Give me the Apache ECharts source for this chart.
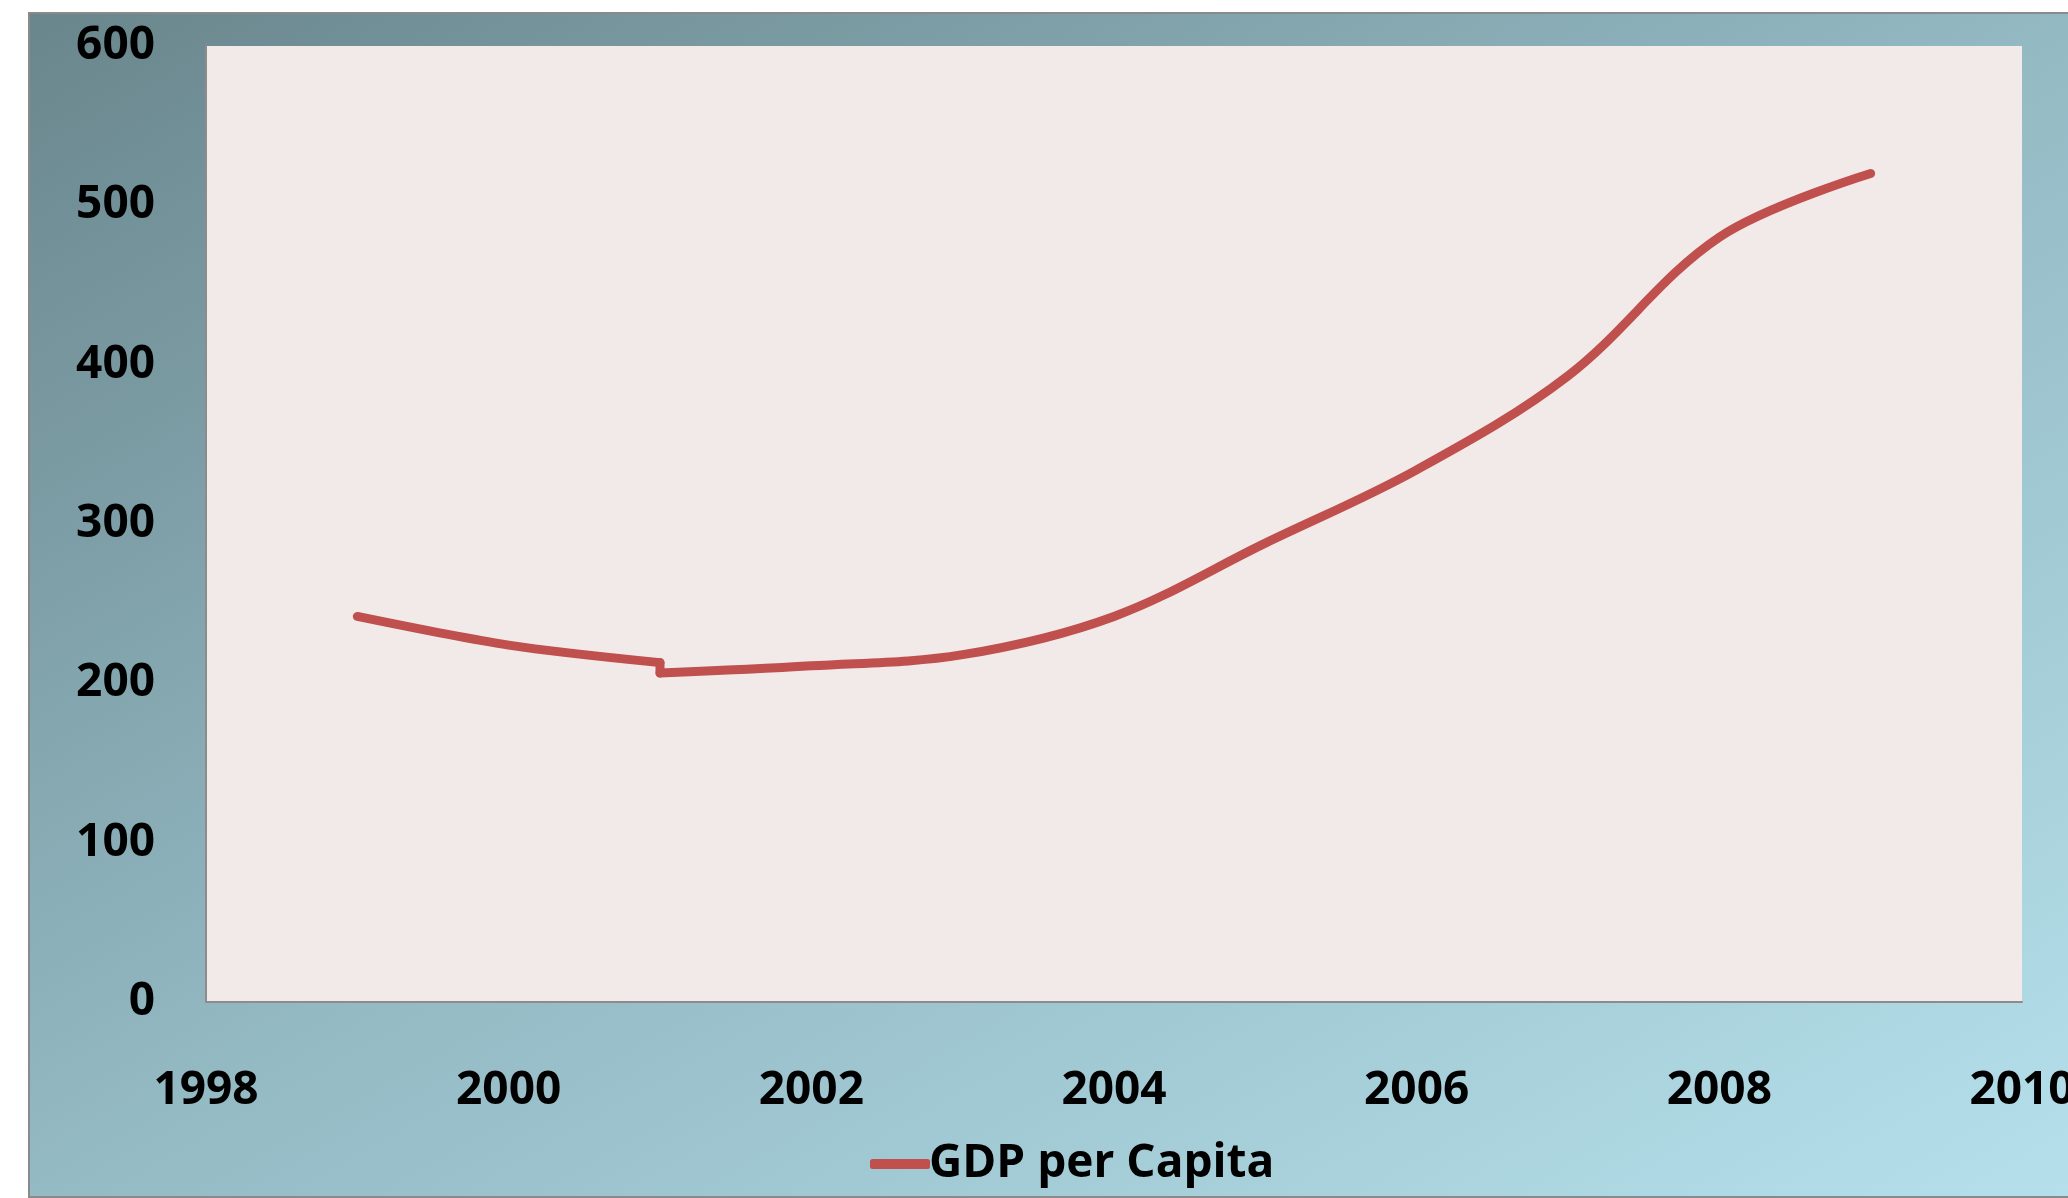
<!DOCTYPE html>
<html>
<head>
<meta charset="utf-8">
<script src="https://cdn.jsdelivr.net/npm/echarts@6/dist/echarts.min.js"></script>
<style>
html,body{margin:0;padding:0;background:#ffffff;}
#c{width:2068px;height:1198px;}
</style>
</head>
<body>
<div id="c"></div>
<script>
var years = [1999, 2000, 2001, 2001, 2002, 2003, 2004, 2005, 2006, 2007, 2008, 2009];
var gdpPerCapita = [242, 224, 213, 206.5, 211, 218, 242, 288, 334, 393, 480, 520];
var seriesName = 'GDP per Capita';
var xMin = 1998, xMax = 2010, xStep = 2;
var yMin = 0, yMax = 600, yStep = 100;

var points = years.map(function (y, i) { return [y, gdpPerCapita[i]]; });
// the series has a step at 2001 (two values for one year): draw the pieces
// before, at and after the step so the smoothing does not hook around it
var partBefore = points.slice(0, 3);
var partStep = points.slice(2, 4);
var partAfter = points.slice(3);

var labelFont = {fontFamily: '"Open Sans", "Noto Sans", sans-serif', fontWeight: 'bold', fontSize: 46, color: '#000000'};
var lineColor = '#C0504D';

var W = 2100, H = 1184, a = 2 * W * H / (W * W + H * H);

function part(data, smooth) {
  return {
    name: seriesName,
    type: 'line',
    data: data,
    smooth: smooth,
    showSymbol: false,
    symbol: 'none',
    lineStyle: {color: lineColor, width: 9, cap: 'round', join: 'round'},
    itemStyle: {color: lineColor}
  };
}

var chart = echarts.init(document.getElementById('c'), null, {renderer: 'canvas'});
chart.setOption({
  animation: false,
  backgroundColor: '#ffffff',
  graphic: [{
    type: 'rect',
    z: -10,
    silent: true,
    shape: {x: 29, y: 13, width: W, height: H},
    style: {
      fill: {
        type: 'linear', global: true,
        x: 29, y: 13, x2: 29 + a * H, y2: 13 + a * W,
        colorStops: [
          {offset: 0, color: '#6A868D'},
          {offset: 0.5, color: '#94BAC4'},
          {offset: 1, color: '#B6E1EC'}
        ]
      },
      stroke: '#8A8A8A',
      lineWidth: 2
    }
  }],
  grid: {
    left: 206, top: 46, right: 46, bottom: 196,
    outerBoundsMode: 'none', containLabel: false,
    show: true, backgroundColor: '#F2E9E9', borderWidth: 0
  },
  legend: {
    left: 865, top: 1136,
    icon: 'roundRect',
    itemWidth: 60, itemHeight: 10, itemGap: 10,
    textStyle: Object.assign({padding: [0, 0, 0, -6]}, labelFont),
    data: [{name: seriesName, itemStyle: {color: lineColor}}]
  },
  xAxis: {
    type: 'value', min: xMin, max: xMax, interval: xStep,
    axisLine: {show: true, lineStyle: {color: '#8C8C8C', width: 2}},
    axisTick: {show: false},
    splitLine: {show: false},
    axisLabel: Object.assign({
      margin: 66, lineHeight: 46, showMaxLabel: true, showMinLabel: true,
      formatter: function (v) { return String(v); }
    }, labelFont)
  },
  yAxis: {
    type: 'value', min: yMin, max: yMax, interval: yStep,
    axisLine: {show: true, lineStyle: {color: '#8C8C8C', width: 2}},
    axisTick: {show: false},
    splitLine: {show: false},
    axisLabel: Object.assign({margin: 51, padding: [6, 0, 0, 0]}, labelFont)
  },
  series: [part(partBefore, 0.3), part(partStep, false), part(partAfter, 0.35)]
});
</script>
</body>
</html>
